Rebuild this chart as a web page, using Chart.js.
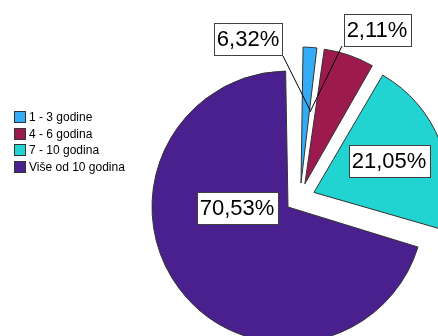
<!DOCTYPE html>
<html>
<head>
<meta charset="utf-8">
<script src="https://cdn.jsdelivr.net/npm/chart.js@4/dist/chart.umd.min.js"></script>
<style>
  body { margin: 0; background: #fff; }
  #wrap { position: relative; width: 438px; height: 336px; overflow: hidden; }
  #legend { position: absolute; left: 14px; top: 109px; font: 12px "Liberation Sans", Arial, sans-serif; color: #000; }
  .row { display: flex; align-items: center; height: 16.5px; white-space: nowrap; }
  .sw { width: 10px; height: 10px; border: 1px solid #333; margin-right: 3px; }
</style>
</head>
<body>
<div id="wrap">
  <canvas id="pie" width="438" height="336"></canvas>
  <div id="legend"></div>
</div>
<script>
// data
const categories = ["1 - 3 godine", "4 - 6 godina", "7 - 10 godina", "Više od 10 godina"];
const shares = [2.11, 6.32, 21.05, 70.53];
const colors = ["#33acf5", "#9c1a4e", "#22d4d1", "#4a1f8e"];

const RADIUS = 136;
const EXPLODE = 15; // px each slice is pulled out

// where the value boxes sit (Excel put two of them outside with leader lines)
const labelSpots = [
  { x: 377, y: 30, lead: [342, 46, 310, 112] },
  { x: 248, y: 39, lead: [283, 56, 310, 110] },
  { x: 389, y: 161 },
  { x: 237, y: 208 }
];

// legend
const legend = document.getElementById("legend");
categories.forEach((c, i) => {
  const row = document.createElement("div");
  row.className = "row";
  row.innerHTML = `<span class="sw" style="background:${colors[i]}"></span><span>${c}</span>`;
  legend.appendChild(row);
});

// Chart.js grows the radius of offset arcs a bit, undo that so every slice has the same size
const sameRadius = {
  id: "sameRadius",
  afterDatasetUpdate(chart, args) {
    args.meta.data.forEach(arc => {
      const circ = arc.endAngle - arc.startAngle;
      const fix = 1 - Math.sin(Math.min(Math.PI, circ));
      arc.outerRadius = RADIUS - EXPLODE * fix;
    });
  }
};

const valueBoxes = {
  id: "valueBoxes",
  afterDatasetsDraw(chart) {
    const ctx = chart.ctx;
    ctx.save();
    ctx.strokeStyle = "#000";
    ctx.lineWidth = 1;
    labelSpots.forEach(s => {
      if (!s.lead) return;
      ctx.beginPath();
      ctx.moveTo(s.lead[0], s.lead[1]);
      ctx.lineTo(s.lead[2], s.lead[3]);
      ctx.stroke();
    });
    ctx.font = '22px "Liberation Sans", Arial, sans-serif';
    ctx.textAlign = "center";
    ctx.textBaseline = "middle";
    shares.forEach((v, i) => {
      const s = labelSpots[i];
      const txt = v.toFixed(2).replace(".", ",") + "%";
      const w = Math.round(ctx.measureText(txt).width) + 6;
      const h = 32;
      const x0 = Math.round(s.x - w / 2) + 0.5, y0 = Math.round(s.y - h / 2) + 0.5;
      ctx.fillStyle = "#fff";
      ctx.fillRect(x0, y0, w, h);
      ctx.strokeStyle = "#404040";
      ctx.strokeRect(x0, y0, w, h);
      ctx.fillStyle = "#000";
      ctx.fillText(txt, s.x, s.y + 1);
    });
    ctx.restore();
  }
};

new Chart(document.getElementById("pie"), {
  type: "pie",
  data: {
    labels: categories,
    datasets: [{
      data: shares,
      backgroundColor: colors,
      borderColor: "#333",
      borderWidth: 1,
      offset: EXPLODE * 4,
      clip: false
    }]
  },
  options: {
    responsive: false,
    animation: false,
    radius: RADIUS,
    layout: { padding: { left: 162, right: 0, top: 60, bottom: 0 } },
    plugins: {
      legend: { display: false },
      tooltip: { enabled: false }
    }
  },
  plugins: [sameRadius, valueBoxes]
});
</script>
</body>
</html>
